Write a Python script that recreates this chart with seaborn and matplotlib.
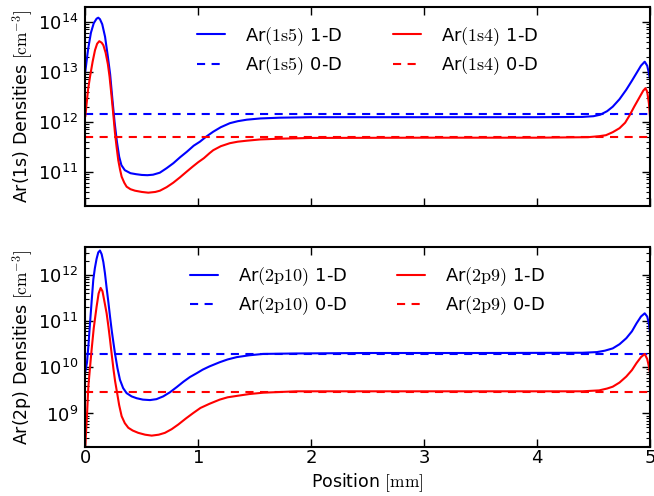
import numpy as np
import pandas as pd
import matplotlib
matplotlib.use("Agg")
import matplotlib.pyplot as plt
import seaborn as sns

# Position along the gap [mm] and log10 of density [cm^-3]
pos_1s5 = [0.000, 0.025, 0.050, 0.075, 0.100, 0.115, 0.130, 0.150, 0.175, 0.200,
           0.220, 0.240, 0.260, 0.280, 0.300, 0.320, 0.350, 0.400, 0.450, 0.500,
           0.550, 0.600, 0.660, 0.720, 0.780, 0.840, 0.900, 0.960, 1.015, 1.070,
           1.133, 1.200, 1.280, 1.350, 1.430, 1.550, 1.720, 2.000, 3.000, 4.000,
           4.400, 4.500, 4.560, 4.620, 4.670, 4.730, 4.790, 4.840, 4.880, 4.920,
           4.953, 4.975, 4.990, 5.000]
log_1s5 = [13.00, 13.45, 13.78, 13.97, 14.06, 14.08, 14.05, 13.95, 13.70, 13.30,
           12.95, 12.45, 11.98, 11.60, 11.30, 11.13, 11.03, 10.97, 10.95, 10.935,
           10.93, 10.94, 10.98, 11.07, 11.17, 11.29, 11.40, 11.52, 11.60, 11.70,
           11.80, 11.89, 11.97, 12.01, 12.04, 12.065, 12.08, 12.09, 12.09, 12.09,
           12.095, 12.11, 12.14, 12.21, 12.30, 12.45, 12.64, 12.82, 12.97, 13.12,
           13.20, 13.12, 12.97, 12.85]

pos_1s4 = [0.000, 0.025, 0.042, 0.065, 0.086, 0.105, 0.124, 0.145, 0.160, 0.180,
           0.200, 0.215, 0.233, 0.250, 0.263, 0.278, 0.292, 0.307, 0.322, 0.345,
           0.366, 0.400, 0.440, 0.500, 0.558, 0.620, 0.661, 0.720, 0.779, 0.840,
           0.897, 0.950, 1.000, 1.050, 1.100, 1.133, 1.200, 1.280, 1.350, 1.430,
           1.550, 1.720, 2.000, 3.000, 4.000, 4.450, 4.550, 4.610, 4.670, 4.730,
           4.780, 4.820, 4.860, 4.910, 4.940, 4.960, 4.975, 4.990, 5.000]
log_1s4 = [12.10, 12.65, 12.90, 13.20, 13.43, 13.56, 13.61, 13.58, 13.53, 13.38,
           13.15, 12.90, 12.50, 12.10, 11.77, 11.48, 11.23, 11.05, 10.90, 10.78,
           10.70, 10.65, 10.62, 10.595, 10.58, 10.595, 10.62, 10.69, 10.78, 10.89,
           11.00, 11.10, 11.19, 11.27, 11.37, 11.43, 11.51, 11.57, 11.60, 11.62,
           11.645, 11.66, 11.675, 11.68, 11.68, 11.69, 11.71, 11.73, 11.79, 11.87,
           11.98, 12.13, 12.30, 12.50, 12.62, 12.67, 12.60, 12.37, 12.10]

pos_2p10 = [0.000, 0.015, 0.027, 0.042, 0.057, 0.071, 0.085, 0.100, 0.115, 0.130,
            0.145, 0.160, 0.174, 0.190, 0.205, 0.219, 0.235, 0.250, 0.263, 0.285,
            0.307, 0.335, 0.366, 0.410, 0.455, 0.510, 0.573, 0.630, 0.690, 0.750,
            0.809, 0.870, 0.927, 0.985, 1.040, 1.100, 1.190, 1.260, 1.340, 1.450,
            1.575, 1.870, 2.500, 3.500, 4.400, 4.530, 4.600, 4.670, 4.730, 4.790,
            4.840, 4.880, 4.920, 4.953, 4.975, 4.990, 5.000]
log_2p10 = [9.90, 10.10, 10.45, 10.96, 11.45, 11.90, 12.15, 12.35, 12.49, 12.53,
            12.45, 12.28, 12.04, 11.70, 11.40, 11.10, 10.78, 10.52, 10.30, 9.98,
            9.73, 9.55, 9.44, 9.37, 9.33, 9.30, 9.29, 9.31, 9.37, 9.46,
            9.57, 9.69, 9.79, 9.87, 9.95, 10.02, 10.11, 10.17, 10.22, 10.26,
            10.29, 10.30, 10.31, 10.31, 10.315, 10.33, 10.36, 10.41, 10.50, 10.63,
            10.78, 10.95, 11.10, 11.17, 11.10, 10.95, 10.75]

pos_2p9 = [0.000, 0.015, 0.027, 0.042, 0.056, 0.075, 0.100, 0.118, 0.136, 0.152,
           0.170, 0.189, 0.205, 0.219, 0.233, 0.250, 0.264, 0.278, 0.300, 0.322,
           0.350, 0.381, 0.420, 0.469, 0.530, 0.588, 0.650, 0.705, 0.765, 0.823,
           0.890, 0.956, 1.020, 1.100, 1.190, 1.260, 1.340, 1.450, 1.575, 1.870,
           2.500, 3.500, 4.400, 4.550, 4.620, 4.670, 4.730, 4.790, 4.840, 4.880,
           4.920, 4.953, 4.975, 4.990, 5.000]
log_2p9 = [8.30, 8.95, 9.58, 10.00, 10.38, 10.85, 11.31, 11.60, 11.72, 11.65,
           11.42, 11.17, 10.88, 10.60, 10.30, 9.95, 9.70, 9.50, 9.18, 8.94,
           8.79, 8.69, 8.63, 8.58, 8.54, 8.52, 8.54, 8.58, 8.66, 8.76,
           8.89, 9.01, 9.12, 9.21, 9.30, 9.35, 9.38, 9.42, 9.45, 9.48,
           9.48, 9.48, 9.48, 9.50, 9.54, 9.58, 9.67, 9.80, 9.94, 10.09,
           10.22, 10.29, 10.18, 10.02, 9.88]

# Global (0-D) model densities [cm^-3]
n0d_1s5 = 1.41e12
n0d_1s4 = 4.9e11
n0d_2p10 = 1.95e10
n0d_2p9 = 2.95e9

legend_1s = [r"Ar$\mathrm{(1s5)}$ 1-D", r"Ar$\mathrm{(1s5)}$ 0-D",
             r"Ar$\mathrm{(1s4)}$ 1-D", r"Ar$\mathrm{(1s4)}$ 0-D"]
legend_2p = [r"Ar$\mathrm{(2p10)}$ 1-D", r"Ar$\mathrm{(2p10)}$ 0-D",
             r"Ar$\mathrm{(2p9)}$ 1-D", r"Ar$\mathrm{(2p9)}$ 0-D"]
xtick_vals = [0, 1, 2, 3, 4, 5]

sns.set_theme(style="ticks")
plt.rcParams.update({
    "font.family": ["DejaVu Sans"],
    "mathtext.fontset": "cm",
    "text.color": "black", "axes.labelcolor": "black",
    "axes.linewidth": 1.5,
    "xtick.direction": "in", "ytick.direction": "in",
    "xtick.top": True, "ytick.right": True,
    "xtick.major.size": 6, "ytick.major.size": 6,
    "ytick.minor.size": 3, "xtick.major.width": 1.0,
    "ytick.major.width": 1.0, "ytick.minor.width": 0.8,
    "xtick.major.pad": 1.5, "ytick.major.pad": 5,
    "xtick.labelsize": 13, "ytick.labelsize": 13,
    "axes.labelsize": 12.5, "legend.fontsize": 13,
    "xtick.color": "black", "ytick.color": "black",
    "axes.edgecolor": "black",
})

fig = plt.figure(figsize=(6.54, 4.96), dpi=100)
ax1 = fig.add_axes([0.1304, 0.5853, 0.8635, 0.4012])
ax2 = fig.add_axes([0.1304, 0.0994, 0.8635, 0.4020])

DASH = (3.9, 3.1)


def curve(pos, logs):
    return pd.DataFrame({"pos": pos, "n": np.power(10.0, logs)})


def panel(ax, hi, lo, hi0, lo0, labels, ylabel, ylim):
    sns.lineplot(data=curve(*hi), x="pos", y="n", ax=ax, color="blue",
                 lw=1.5, sort=False, estimator=None)
    ax.axhline(hi0, color="blue", lw=1.5, ls="--", dashes=DASH)
    sns.lineplot(data=curve(*lo), x="pos", y="n", ax=ax, color="red",
                 lw=1.5, sort=False, estimator=None)
    ax.axhline(lo0, color="red", lw=1.5, ls="--", dashes=DASH)
    ax.set_yscale("log")
    ax.set_xlim(0, 5)
    ax.set_ylim(*ylim)
    ax.set_xticks(xtick_vals)
    ax.set_ylabel(ylabel, labelpad=2)
    ax.set_xlabel("")
    ax.yaxis.set_minor_locator(matplotlib.ticker.LogLocator(base=10, subs=np.arange(2, 10)))
    ax.yaxis.set_minor_formatter(matplotlib.ticker.NullFormatter())
    ax.tick_params(which="both", top=True, right=True, direction="in")
    lines = ax.get_lines()
    ax.legend(lines[:4], labels, ncol=2, frameon=False, loc="upper center",
              bbox_to_anchor=(0.5, 0.99), handlelength=1.55, columnspacing=2.8,
              handletextpad=1.1, labelspacing=0.35)


panel(ax1, (pos_1s5, log_1s5), (pos_1s4, log_1s4), n0d_1s5, n0d_1s4, legend_1s,
      r"Ar(1s) Densities $[\mathrm{cm}^{-3}]$", (10 ** 10.32, 10 ** 14.3))
panel(ax2, (pos_2p10, log_2p10), (pos_2p9, log_2p9), n0d_2p10, n0d_2p9, legend_2p,
      r"Ar(2p) Densities $[\mathrm{cm}^{-3}]$", (10 ** 8.28, 10 ** 12.6))
ax1.set_xticklabels([])
ax2.set_xticklabels([str(v) for v in xtick_vals])
ax2.set_xlabel(r"Position $[\mathrm{mm}]$", labelpad=3)

fig.savefig("out.png", dpi=100)
